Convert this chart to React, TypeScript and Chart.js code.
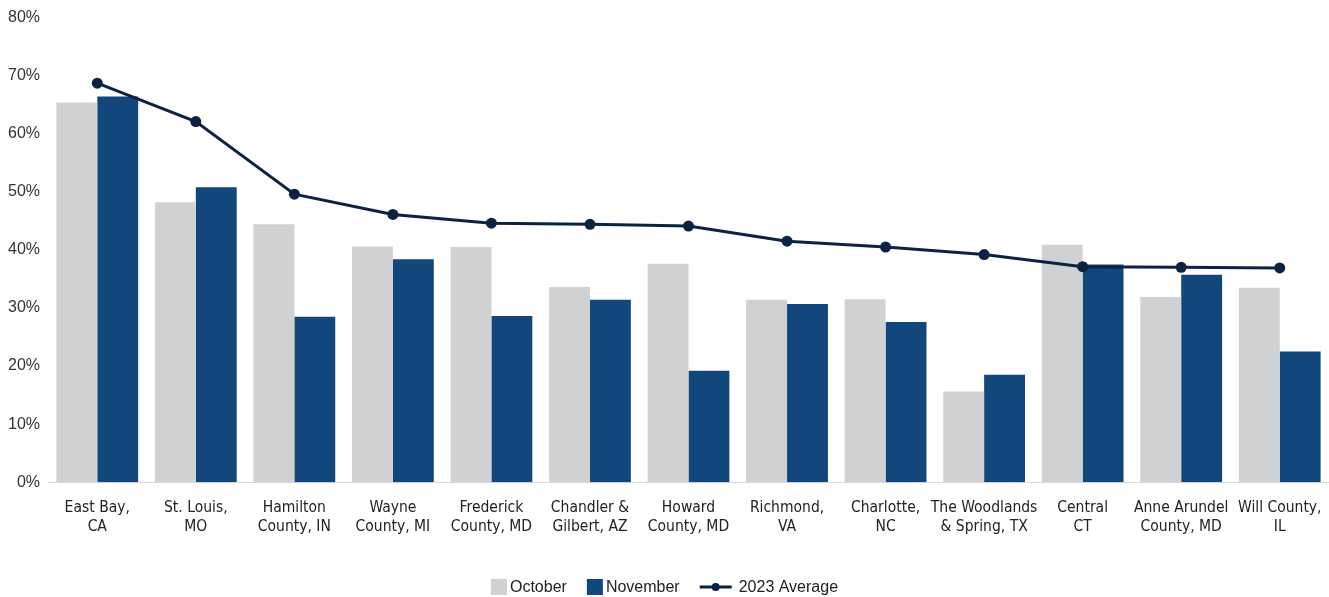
import React, { useEffect, useRef } from "react";
import { Chart, registerables } from "chart.js";

Chart.register(...registerables);

const categories: string[][] = [
  ["East Bay,", "CA"],
  ["St. Louis,", "MO"],
  ["Hamilton", "County, IN"],
  ["Wayne", "County, MI"],
  ["Frederick", "County, MD"],
  ["Chandler &", "Gilbert, AZ"],
  ["Howard", "County, MD"],
  ["Richmond,", "VA"],
  ["Charlotte,", "NC"],
  ["The Woodlands", "& Spring, TX"],
  ["Central", "CT"],
  ["Anne Arundel", "County, MD"],
  ["Will County,", "IL"],
];

const october = [65.4, 48.2, 44.4, 40.6, 40.5, 33.6, 37.6, 31.4, 31.5, 15.6, 40.9, 31.9, 33.5];
const november = [66.4, 50.8, 28.5, 38.4, 28.6, 31.4, 19.2, 30.7, 27.6, 18.5, 37.5, 35.7, 22.5];
const average2023 = [68.7, 62.1, 49.6, 46.1, 44.6, 44.4, 44.1, 41.5, 40.5, 39.2, 37.1, 37.0, 36.9];

const yTicks = [0, 10, 20, 30, 40, 50, 60, 70, 80];

const OCT_COLOR = "#D0D1D3";
const NOV_COLOR = "#12477B";
const LINE_COLOR = "#0B2341";
const TEXT_COLOR = "#222222";
const SANS = "'Liberation Sans', Arial, Helvetica, sans-serif";
const NARROW = "'Liberation Sans Narrow', 'Arial Narrow', 'DejaVu Sans Condensed', sans-serif";

const legendPlugin = {
  id: "customLegend",
  afterDraw(chart: any) {
    const ctx = chart.ctx as CanvasRenderingContext2D;
    const items = [
      { label: "October", kind: "box", color: OCT_COLOR },
      { label: "November", kind: "box", color: NOV_COLOR },
      { label: "2023 Average", kind: "line", color: LINE_COLOR },
    ];
    ctx.save();
    ctx.font = `16px ${SANS}`;
    ctx.textBaseline = "middle";
    const box = 16;
    const lineW = 32;
    const gapText = 3;
    const gapLineText = 7;
    const gapItem = 20;
    const widths = items.map((it) =>
      (it.kind === "box" ? box + gapText : lineW + gapLineText) + ctx.measureText(it.label).width
    );
    const total = widths.reduce((a, b) => a + b, 0) + gapItem * (items.length - 1);
    let x = (chart.width - total) / 2;
    const cy = 587;
    items.forEach((it) => {
      if (it.kind === "box") {
        ctx.fillStyle = it.color;
        ctx.fillRect(x, cy - box / 2, box, box);
        x += box + gapText;
      } else {
        ctx.strokeStyle = it.color;
        ctx.lineWidth = 3;
        ctx.beginPath();
        ctx.moveTo(x, cy);
        ctx.lineTo(x + lineW, cy);
        ctx.stroke();
        ctx.fillStyle = it.color;
        ctx.beginPath();
        ctx.arc(x + lineW / 2, cy, 4, 0, Math.PI * 2);
        ctx.fill();
        x += lineW + gapLineText;
      }
      ctx.fillStyle = TEXT_COLOR;
      ctx.textAlign = "left";
      ctx.fillText(it.label, x, cy + 1);
      x += ctx.measureText(it.label).width + gapItem;
    });
    ctx.restore();
  },
};

export default function App() {
  const canvasRef = useRef<HTMLCanvasElement | null>(null);

  useEffect(() => {
    if (!canvasRef.current) return;
    const chart = new Chart(canvasRef.current, {
      type: "bar",
      data: {
        labels: categories,
        datasets: [
          {
            type: "line",
            label: "2023 Average",
            data: average2023,
            borderColor: LINE_COLOR,
            backgroundColor: LINE_COLOR,
            borderWidth: 3,
            pointRadius: 5.5,
            pointBackgroundColor: LINE_COLOR,
            pointBorderWidth: 0,
            tension: 0,
            order: 0,
            clip: false,
          },
          {
            type: "bar",
            label: "October",
            data: october,
            backgroundColor: OCT_COLOR,
            borderWidth: 0,
            order: 1,
          },
          {
            type: "bar",
            label: "November",
            data: november,
            backgroundColor: NOV_COLOR,
            borderWidth: 0,
            order: 1,
          },
        ] as any,
      },
      options: {
        animation: false,
        responsive: false,
        maintainAspectRatio: false,
        datasets: {
          bar: { categoryPercentage: 0.83, barPercentage: 1 },
        } as any,
        layout: { autoPadding: false, padding: { top: 7, right: 0, bottom: 45, left: 0 } },
        plugins: {
          legend: { display: false },
          tooltip: { enabled: false },
        },
        scales: {
          x: {
            afterFit: (scale: any) => {
              scale.paddingRight = 0;
              scale.paddingLeft = 0;
            },
            grid: { display: false, drawTicks: false },
            border: { display: true, color: "#D9D9D9", width: 1 },
            ticks: {
              color: TEXT_COLOR,
              font: { family: NARROW, size: 15.5, lineHeight: 1.22 },
              padding: 16,
              maxRotation: 0,
              autoSkip: false,
            },
          },
          y: {
            min: 0,
            max: 80,
            afterBuildTicks: (scale: any) => {
              scale.ticks = yTicks.map((v) => ({ value: v }));
            },
            afterFit: (scale: any) => {
              scale.width = 48;
            },
            grid: { display: false, drawTicks: false },
            border: { display: false },
            ticks: {
              color: "#333333",
              font: { family: SANS, size: 16 },
              padding: 8,
              callback: (v: any) => `${v}%`,
            },
          },
        },
      },
      plugins: [legendPlugin],
    });
    return () => chart.destroy();
  }, []);

  return (
    <div style={{ position: "fixed", left: 0, top: 0, width: 1329, height: 597, background: "#fff" }}>
      <canvas ref={canvasRef} width={1329} height={597} style={{ width: 1329, height: 597, display: "block" }} />
    </div>
  );
}
